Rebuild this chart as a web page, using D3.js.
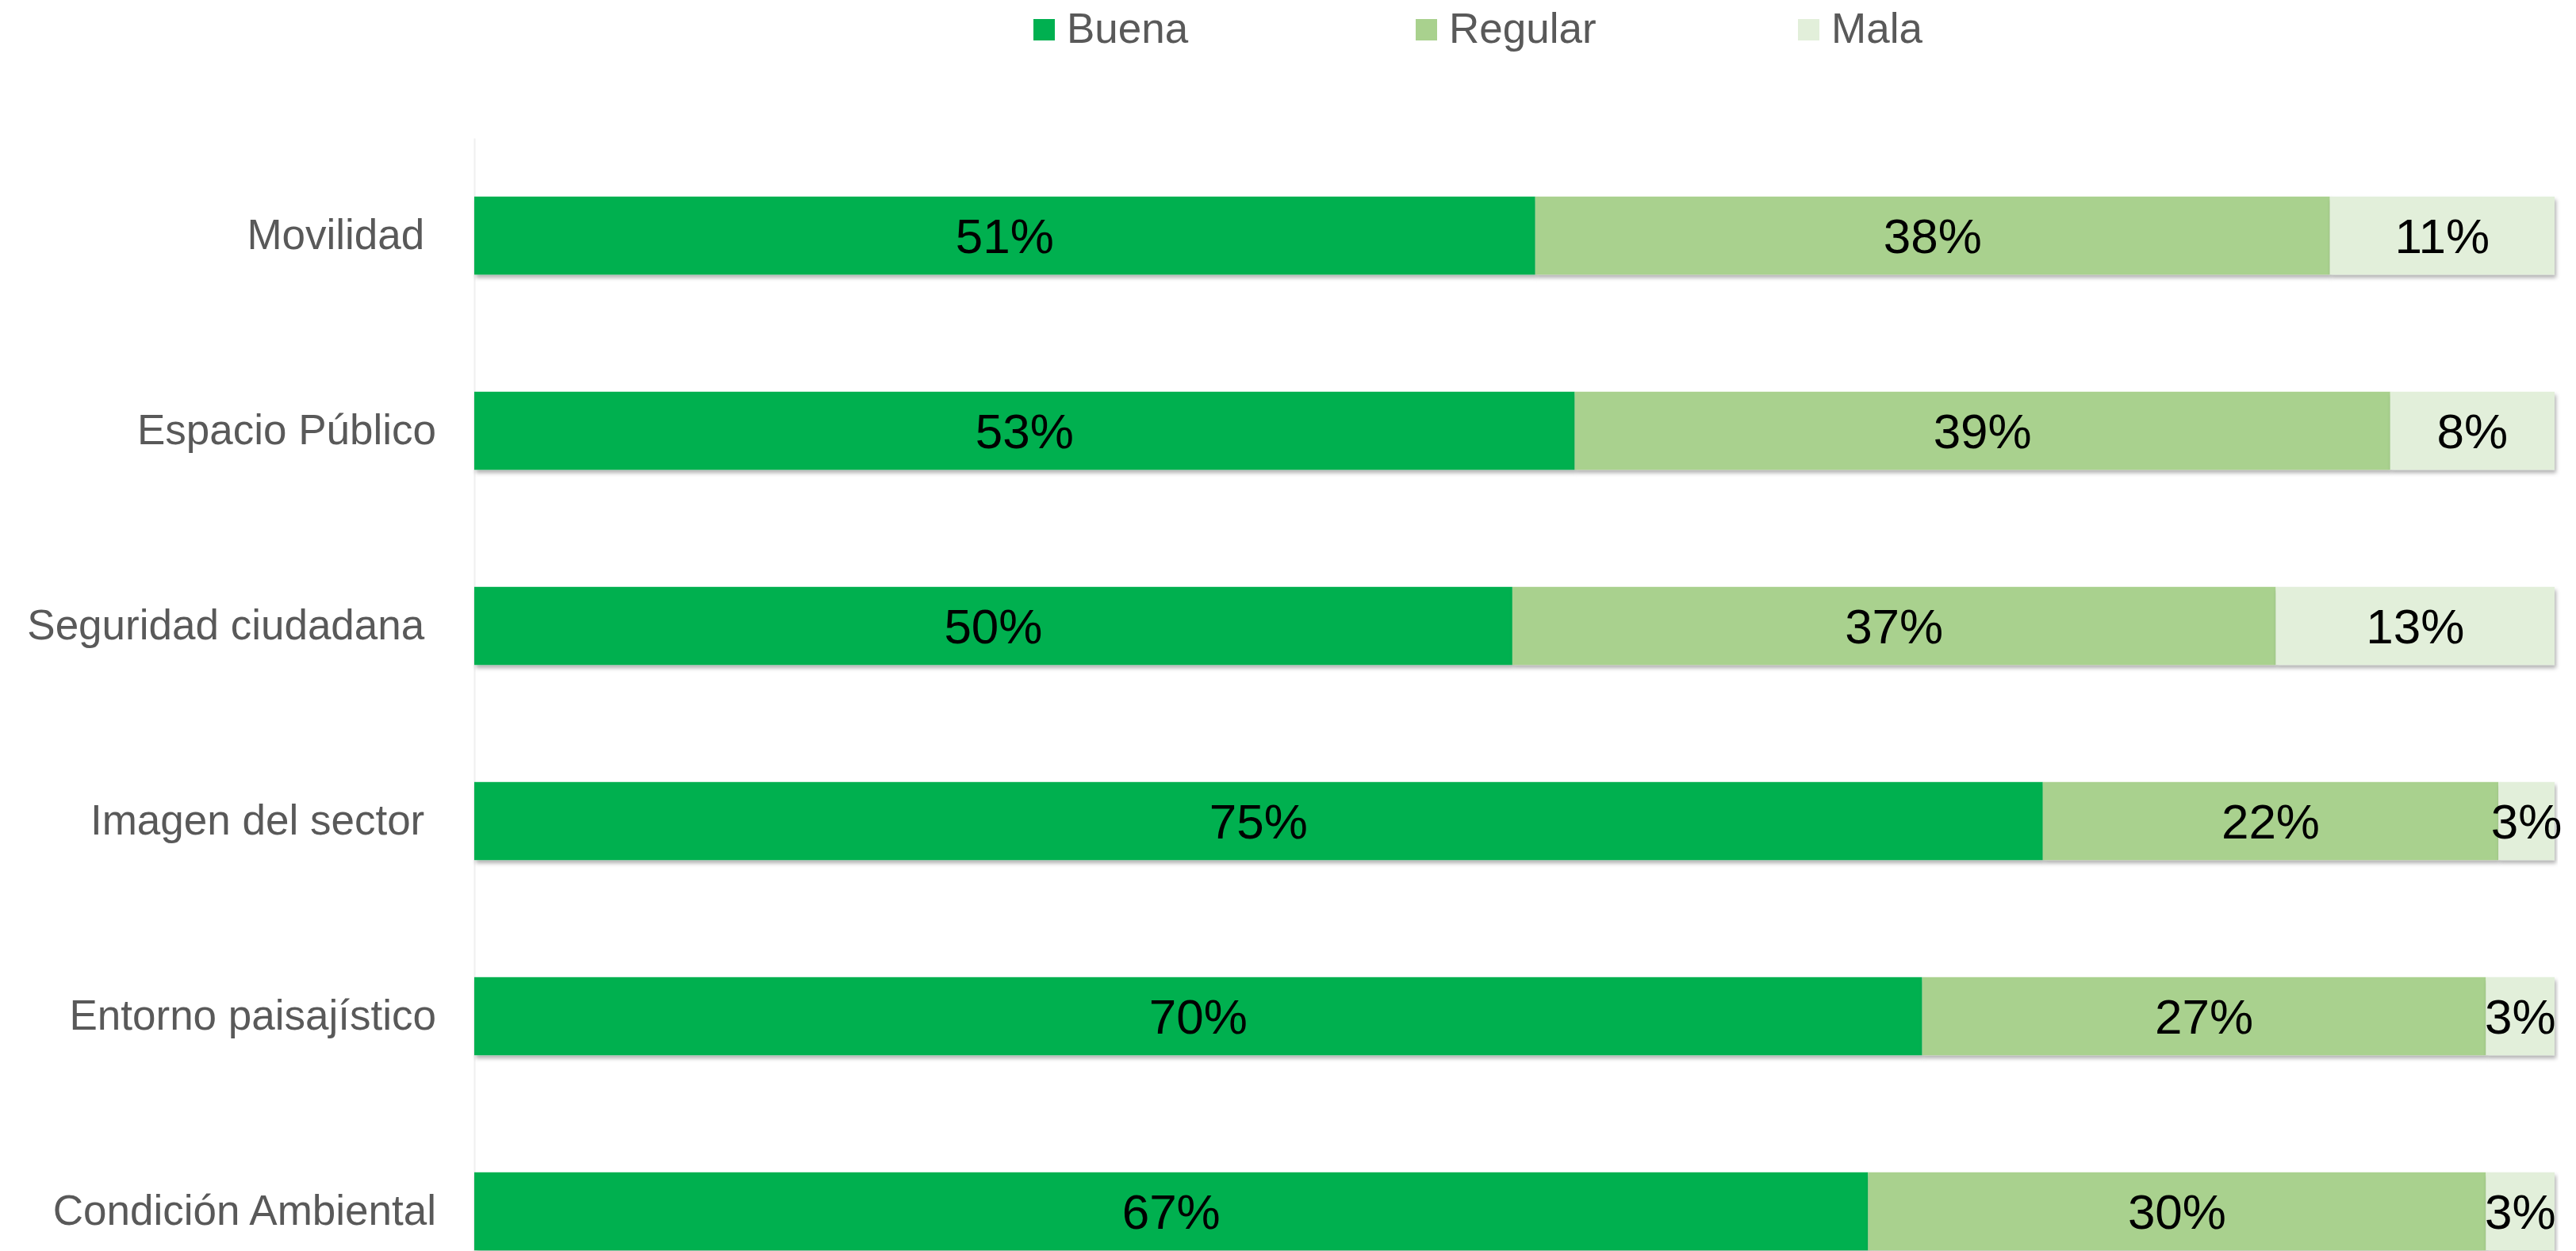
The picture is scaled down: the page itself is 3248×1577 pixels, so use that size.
<!DOCTYPE html>
<html>
<head>
<meta charset="utf-8">
<script src="https://cdn.jsdelivr.net/npm/d3@7"></script>
<style>
  body { margin: 0; background: #ffffff; }
  svg { display: block; font-family: "Liberation Sans", Arial, sans-serif; }
</style>
</head>
<body>
<div id="chart"></div>
<script>
// categories (top to bottom), trailing spaces as in the original labels
const categories = ["Movilidad ", "Espacio Público", "Seguridad ciudadana ", "Imagen del sector ", "Entorno paisajístico", "Condición Ambiental"];
const seriesNames = ["Buena", "Regular", "Mala"];
const seriesColors = ["#00B050", "#A9D18E", "#E2EFDA"];

// shares in percent
const buena   = [51.0, 52.9, 49.9, 75.4, 69.6, 67.0];
const regular = [38.2, 39.2, 36.7, 21.9, 27.1, 29.7];
const mala    = [10.8,  7.9, 13.4,  2.7,  3.3,  3.3];

const width = 3248, height = 1577;
const plotLeft = 598, plotRight = 3221, plotTop = 174, plotBottom = 1650;

const rows = categories.map(function(c, i){
    return { cat: c, Buena: buena[i], Regular: regular[i], Mala: mala[i] };
});

const stack = d3.stack().keys(seriesNames)(rows);

const x = d3.scaleLinear().domain([0, 100]).range([plotLeft, plotRight]);
const y = d3.scaleBand().domain(categories).range([plotTop, plotBottom])
    .paddingInner(0.6).paddingOuter(0.3);
const color = d3.scaleOrdinal().domain(seriesNames).range(seriesColors);

const svg = d3.select("#chart").append("svg")
    .attr("width", width)
    .attr("height", height);

svg.append("rect").attr("width", width).attr("height", height).attr("fill", "#ffffff");

const defs = svg.append("defs");
defs.append("filter")
    .attr("id", "shadow")
    .attr("x", "-5%").attr("y", "-20%")
    .attr("width", "110%").attr("height", "150%")
    .append("feDropShadow")
    .attr("dx", 2)
    .attr("dy", 4)
    .attr("stdDeviation", 2.5)
    .attr("flood-color", "#000000")
    .attr("flood-opacity", 0.3);

// category axis
const axis = svg.append("g")
    .attr("transform", "translate(" + plotLeft + ",0)")
    .call(d3.axisLeft(y).tickSize(0).tickSizeOuter(0).tickPadding(48));

axis.select(".domain").attr("stroke", "#F0F0F0").attr("stroke-width", 2);
axis.selectAll("text")
    .attr("fill", "#595959")
    .style("font-size", "53px")
    .style("font-family", "'Liberation Sans', Arial, sans-serif")
    .style("white-space", "pre");

// bars
const layers = svg.append("g").attr("class", "bars")
    .selectAll("g")
    .data(stack)
    .enter().append("g")
    .attr("fill", function(d){ return color(d.key); });

layers.selectAll("rect")
    .data(function(d){ return d; })
    .enter().append("rect")
    .attr("x", function(d){ return x(d[0]); })
    .attr("y", function(d){ return y(d.data.cat); })
    .attr("width", function(d){ return x(d[1]) - x(d[0]); })
    .attr("height", y.bandwidth())
    .attr("filter", "url(#shadow)");

// value labels
const labels = svg.append("g").attr("class", "labels");
stack.forEach(function(layer){
    labels.selectAll(null)
        .data(layer)
        .enter().append("text")
        .attr("x", function(d){ return (x(d[0]) + x(d[1])) / 2; })
        .attr("y", function(d){ return y(d.data.cat) + y.bandwidth() / 2; })
        .attr("dy", "0.36em")
        .attr("text-anchor", "middle")
        .attr("fill", "#000000")
        .style("font-size", "62px")
        .text(function(d){ return Math.round(d[1] - d[0]) + "%"; });
});

// legend
const lx = d3.scalePoint().domain(seriesNames).range([1303, 2267]);
const legend = svg.append("g").attr("class", "legend")
    .selectAll("g")
    .data(seriesNames)
    .enter().append("g")
    .attr("transform", function(d){ return "translate(" + lx(d) + ",24)"; });

legend.append("rect")
    .attr("width", 27)
    .attr("height", 27)
    .attr("fill", function(d){ return color(d); });

legend.append("text")
    .attr("x", 42)
    .attr("y", 30)
    .attr("fill", "#595959")
    .style("font-size", "53px")
    .text(function(d){ return d; });
</script>
</body>
</html>
